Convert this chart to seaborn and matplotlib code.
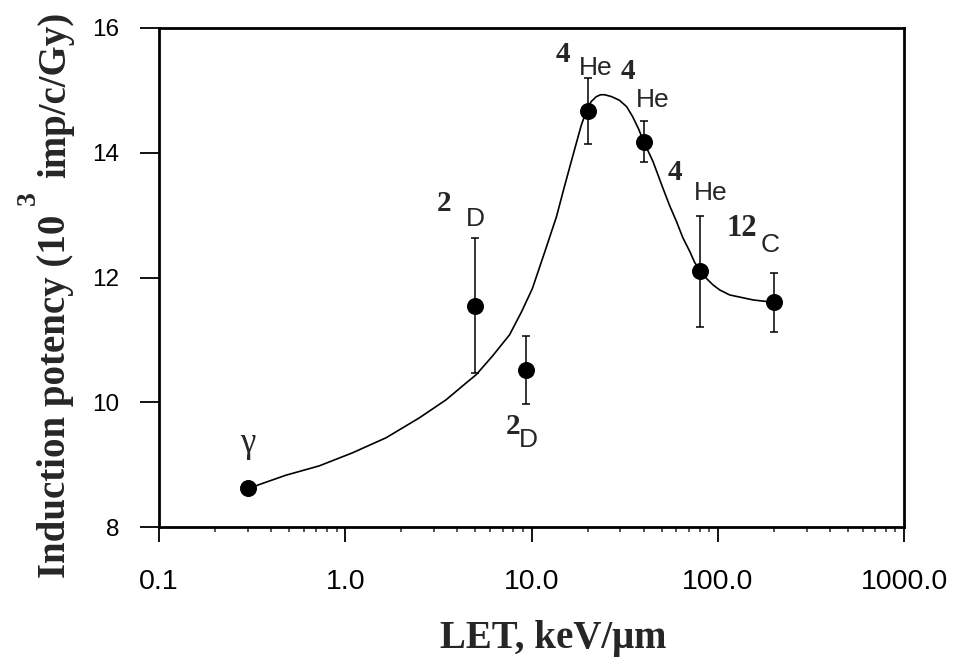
import numpy as np
import pandas as pd
import seaborn as sns
import matplotlib.pyplot as plt
from matplotlib.ticker import FixedLocator, NullFormatter

sns.set_style("ticks")
plt.rcParams['font.family'] = ['Liberation Sans', 'DejaVu Sans']

# measured points
let = [0.3, 5.0, 9.3, 20.0, 40.0, 80.0, 200.0]
potency = [8.62, 11.55, 10.52, 14.67, 14.18, 12.10, 11.60]
err = [0.0, 1.08, 0.55, 0.53, 0.33, 0.89, 0.48]
ion_mass = ["", "2", "2", "4", "4", "4", "12"]
ion_name = ["γ", "D", "D", "He", "He", "He", "C"]

# fitted curve
curve_x = [0.30, 0.345, 0.48, 0.725, 1.095, 1.655, 2.5, 3.48, 4.46, 5.04, 6.17, 7.62,
           8.84, 10.1, 11.75, 13.6, 15.0, 16.7, 18.5, 19.7, 20.9, 22.3, 23.5, 24.7,
           26.9, 29.7, 32.4, 34.9, 37.6, 40.0, 44.9, 50.8, 55.2, 60.0, 64.9, 70.7,
           75.2, 81.0, 87.3, 94.4, 102.5, 116.0, 155.0, 202.0]
curve_y = [8.61, 8.68, 8.83, 8.98, 9.19, 9.43, 9.75, 10.04, 10.31, 10.44, 10.74, 11.08,
           11.45, 11.82, 12.40, 12.97, 13.45, 13.96, 14.44, 14.67, 14.82, 14.90, 14.93, 14.93,
           14.90, 14.84, 14.74, 14.58, 14.38, 14.18, 13.86, 13.43, 13.15, 12.90, 12.64, 12.42,
           12.24, 12.10, 11.98, 11.88, 11.80, 11.72, 11.64, 11.60]

x_ticks = [0.1, 1, 10, 100, 1000]
x_tick_labels = ["0.1", "1.0", "10.0", "100.0", "1000.0"]
y_ticks = [8, 10, 12, 14, 16]

# label offsets from each point, in points
mass_offsets = [None, (-22.3, 73.2), (-9.1, -40.8), (-18, 40.3), (-11.3, 50.4), (-18, 70.8), (-22.8, 53.3)]
name_offsets = [(0, 32.4), (0, 62.4), (1.7, -50.4), (6, 30.7), (6.7, 30), (7.7, 56.4), (-2.4, 41.5)]

df = pd.DataFrame({"LET": let, "potency": potency, "err": err})
curve = pd.DataFrame({"LET": curve_x, "potency": curve_y})

fig = plt.figure(figsize=(9.61, 6.65), dpi=100)
ax = fig.add_axes([159 / 961, 1 - 527 / 665, 745 / 961, 499 / 665])

bars = df[df["err"] > 0]
ax.errorbar(bars["LET"], bars["potency"], yerr=bars["err"], fmt="none",
            ecolor="black", elinewidth=1.1, capsize=3, capthick=1.1, zorder=2)
sns.lineplot(data=curve, x="LET", y="potency", ax=ax, color="black", lw=1.2,
             sort=False, estimator=None, zorder=2)
sns.scatterplot(data=df, x="LET", y="potency", ax=ax, color="black", s=150,
                edgecolor="black", linewidth=0, zorder=3)

ax.set_xscale("log")
ax.set_xlim(0.1, 1000)
ax.set_ylim(8, 16)
ax.xaxis.set_major_locator(FixedLocator(x_ticks))
ax.set_xticklabels(x_tick_labels)
ax.xaxis.set_minor_locator(FixedLocator([m * d for d in [0.1, 1, 10, 100] for m in range(2, 10)]))
ax.xaxis.set_minor_formatter(NullFormatter())
ax.set_yticks(y_ticks)
ax.set_xlabel("")
ax.set_ylabel("")

for s in ax.spines.values():
    s.set_linewidth(2)
    s.set_color("black")
ax.tick_params(axis="x", which="major", direction="out", length=10.8, width=1.3,
               pad=19.5, labelsize=20.5, colors="black")
ax.tick_params(axis="x", which="minor", direction="out", length=3.6, width=1.1)
ax.tick_params(axis="y", direction="out", length=13.7, width=1.3, pad=15,
               labelsize=17.5, colors="black")

# ion labels
for i in range(len(let)):
    if mass_offsets[i] is not None:
        ax.annotate(ion_mass[i], xy=(let[i], potency[i]), xytext=mass_offsets[i],
                    textcoords="offset points", ha="center", va="center",
                    fontsize=22 if len(ion_mass[i]) > 1 else 21,
                    fontweight="bold", family="Liberation Serif")
    if ion_name[i] == "γ":
        ax.annotate(ion_name[i], xy=(let[i], potency[i]), xytext=name_offsets[i],
                    textcoords="offset points", ha="center", va="center",
                    fontsize=25, family="Liberation Serif")
    else:
        ax.annotate(ion_name[i], xy=(let[i], potency[i]), xytext=name_offsets[i],
                    textcoords="offset points", ha="center", va="center",
                    fontsize=19, family="Liberation Sans")

# axis titles
fig.text(553 / 961, 1 - 648 / 665, "LET, keV/μm", ha="center", va="baseline",
         fontsize=28, fontweight="bold", family="Liberation Serif")
fig.text(65 / 961, 1 - 578 / 665, "Induction potency (10", rotation=90, rotation_mode="anchor",
         ha="left", va="baseline", fontsize=28, fontweight="bold", family="Liberation Serif")
fig.text(65 / 961, 1 - 12 / 665, "imp/c/Gy)", rotation=90, rotation_mode="anchor",
         ha="right", va="baseline", fontsize=28, fontweight="bold", family="Liberation Serif")
fig.text(35 / 961, 1 - 198 / 665, "3", rotation=90, rotation_mode="anchor",
         ha="center", va="baseline", fontsize=20, fontweight="bold", family="Liberation Serif")

fig.savefig("out.png", dpi=100)
